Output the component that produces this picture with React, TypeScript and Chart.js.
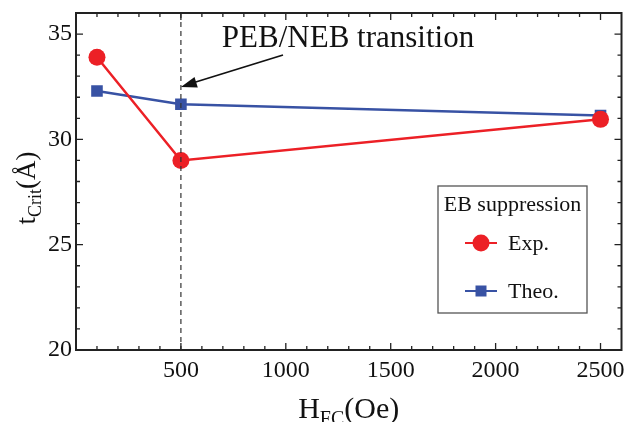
import React, { useEffect, useRef } from "react";
import { Chart, registerables } from "chart.js";

Chart.register(...registerables);

const fieldValues = [100, 500, 2500];
const expValues = [33.9, 29.0, 30.95];
const theoValues = [32.3, 31.67, 31.13];
const xTicks = [500, 1000, 1500, 2000, 2500];
const yTicks = [20, 25, 30, 35];
const transitionField = 500;

const SERIF = '"Liberation Serif", "DejaVu Serif", serif';
const RED = "rgb(236,32,38)";
const BLUE = "rgb(56,82,164)";

const framePlugin = {
  id: "frame",
  afterDatasetsDraw(chart: any) {
    const { ctx, chartArea, scales } = chart;
    const px = scales.x.getPixelForValue(transitionField);
    ctx.save();
    ctx.strokeStyle = "#333";
    ctx.lineWidth = 1.2;
    ctx.setLineDash([5, 4]);
    ctx.beginPath();
    ctx.moveTo(px, chartArea.top);
    ctx.lineTo(px, chartArea.bottom);
    ctx.stroke();
    ctx.restore();
  },
  afterDraw(chart: any) {
    const { ctx, chartArea, scales } = chart;
    const { left, right, top, bottom } = chartArea;
    ctx.save();
    // ticks
    ctx.strokeStyle = "#222";
    ctx.lineWidth = 1.3;
    ctx.beginPath();
    for (let v = 100; v < scales.x.max; v += 100) {
      const p = scales.x.getPixelForValue(v);
      const len = v % 500 === 0 ? 7 : 4;
      ctx.moveTo(p, bottom);
      ctx.lineTo(p, bottom - len);
      ctx.moveTo(p, top);
      ctx.lineTo(p, top + len);
    }
    for (let v = 21; v < scales.y.max; v += 1) {
      const p = scales.y.getPixelForValue(v);
      const len = v % 5 === 0 ? 7 : 4;
      ctx.moveTo(left, p);
      ctx.lineTo(left + len, p);
      ctx.moveTo(right, p);
      ctx.lineTo(right - len, p);
    }
    ctx.stroke();
    // frame
    ctx.lineWidth = 2;
    ctx.strokeRect(left, top, right - left, bottom - top);

    // annotation text
    ctx.fillStyle = "#111";
    ctx.font = `31px ${SERIF}`;
    ctx.textAlign = "center";
    ctx.textBaseline = "alphabetic";
    ctx.fillText("PEB/NEB transition", 348, 47);
    // arrow
    const hx = scales.x.getPixelForValue(transitionField);
    const hy = 87;
    const tx = 283, ty = 55;
    ctx.strokeStyle = "#111";
    ctx.lineWidth = 1.8;
    ctx.beginPath();
    ctx.moveTo(tx, ty);
    ctx.lineTo(hx + 10, hy - 3.5);
    ctx.stroke();
    const ang = Math.atan2(hy - ty, hx - tx);
    const al = 16, aw = 5.5;
    ctx.beginPath();
    ctx.moveTo(hx, hy);
    ctx.lineTo(hx - al * Math.cos(ang) + aw * Math.sin(ang), hy - al * Math.sin(ang) - aw * Math.cos(ang));
    ctx.lineTo(hx - al * Math.cos(ang) - aw * Math.sin(ang), hy - al * Math.sin(ang) + aw * Math.cos(ang));
    ctx.closePath();
    ctx.fillStyle = "#111";
    ctx.fill();

    // x axis title with subscript
    ctx.fillStyle = "#111";
    ctx.textAlign = "left";
    const mainF = `30px ${SERIF}`;
    const subF = `20px ${SERIF}`;
    ctx.font = mainF;
    const wH = ctx.measureText("H").width;
    const wOe = ctx.measureText("(Oe)").width;
    ctx.font = subF;
    const wFC = ctx.measureText("FC").width;
    const total = wH + wFC + wOe;
    let x0 = (left + right) / 2 - total / 2;
    const by = 418;
    ctx.font = mainF;
    ctx.fillText("H", x0, by);
    ctx.font = subF;
    ctx.fillText("FC", x0 + wH, by + 7);
    ctx.font = mainF;
    ctx.fillText("(Oe)", x0 + wH + wFC, by);

    // y axis title rotated
    ctx.save();
    ctx.translate(35, 188);
    ctx.rotate(-Math.PI / 2);
    const mainY = `27px ${SERIF}`;
    const subY = `18px ${SERIF}`;
    ctx.font = mainY;
    const wt = ctx.measureText("t").width;
    const wA = ctx.measureText("(Å)").width;
    ctx.font = subY;
    const wC = ctx.measureText("Crit").width;
    const tot2 = wt + wC + wA;
    let y0 = -tot2 / 2;
    ctx.font = mainY;
    ctx.fillText("t", y0, 0);
    ctx.font = subY;
    ctx.fillText("Crit", y0 + wt, 6);
    ctx.font = mainY;
    ctx.fillText("(Å)", y0 + wt + wC, 0);
    ctx.restore();

    // legend box
    const lx = 438, ly = 186, lw = 149, lh = 127;
    ctx.fillStyle = "#fff";
    ctx.fillRect(lx, ly, lw, lh);
    ctx.strokeStyle = "#555";
    ctx.lineWidth = 1.3;
    ctx.strokeRect(lx, ly, lw, lh);
    ctx.fillStyle = "#111";
    ctx.font = `22px ${SERIF}`;
    ctx.textAlign = "center";
    ctx.textBaseline = "middle";
    ctx.fillText("EB suppression", lx + lw / 2, 205);
    const rows = [
      { y: 243, color: RED, label: chart.data.datasets[0].label, shape: "circle" },
      { y: 291, color: BLUE, label: chart.data.datasets[1].label, shape: "square" },
    ];
    for (const r of rows) {
      ctx.strokeStyle = r.color;
      ctx.lineWidth = 2;
      ctx.beginPath();
      ctx.moveTo(465, r.y);
      ctx.lineTo(497, r.y);
      ctx.stroke();
      ctx.fillStyle = r.color;
      if (r.shape === "circle") {
        ctx.beginPath();
        ctx.arc(481, r.y, 8.5, 0, Math.PI * 2);
        ctx.fill();
      } else {
        ctx.fillRect(481 - 5.5, r.y - 5.5, 11, 11);
      }
      ctx.fillStyle = "#111";
      ctx.font = `22px ${SERIF}`;
      ctx.textAlign = "left";
      ctx.fillText(r.label, 508, r.y + 1);
    }
    ctx.restore();
  },
};

export default function App() {
  const ref = useRef<HTMLCanvasElement>(null);
  useEffect(() => {
    document.body.style.margin = "0";
    const canvas = ref.current!;
    const chart = new Chart(canvas, {
      type: "line",
      data: {
        datasets: [
          {
            label: "Exp.",
            data: fieldValues.map((x, i) => ({ x, y: expValues[i] })),
            borderColor: RED,
            backgroundColor: RED,
            borderWidth: 2.5,
            pointStyle: "circle",
            pointRadius: 8.5,
            pointBorderWidth: 0,
            tension: 0,
          },
          {
            label: "Theo.",
            data: fieldValues.map((x, i) => ({ x, y: theoValues[i] })),
            borderColor: BLUE,
            backgroundColor: BLUE,
            borderWidth: 2.5,
            pointStyle: "rect",
            pointRadius: 8.2,
            pointBorderWidth: 0,
            tension: 0,
          },
        ],
      },
      options: {
        responsive: false,
        animation: false,
        layout: { padding: { top: 13, right: 7, left: 0, bottom: 0 } },
        plugins: { legend: { display: false }, tooltip: { enabled: false } },
        scales: {
          x: {
            type: "linear",
            min: 0,
            max: 2600,
            afterBuildTicks: (s: any) => {
              s.ticks = xTicks.map((v) => ({ value: v }));
            },
            afterFit: (s: any) => {
              s.height = 72;
              s.paddingLeft = 0;
              s.paddingRight = 0;
            },
            grid: { display: false, drawTicks: false },
            border: { display: false },
            ticks: {
              font: { family: SERIF, size: 24 },
              color: "#111",
              padding: 6,
              maxRotation: 0,
              callback: (v: any) => String(v),
            },
          },
          y: {
            type: "linear",
            min: 20,
            max: 36,
            afterBuildTicks: (s: any) => {
              s.ticks = yTicks.map((v) => ({ value: v }));
            },
            afterFit: (s: any) => {
              s.width = 76;
              s.paddingTop = 0;
              s.paddingBottom = 0;
            },
            grid: { display: false, drawTicks: false },
            border: { display: false },
            ticks: {
              font: { family: SERIF, size: 24 },
              color: "#111",
              padding: 4,
              callback: (v: any) => String(v),
            },
          },
        },
      },
      plugins: [framePlugin],
    } as any);
    return () => chart.destroy();
  }, []);
  return (
    <div style={{ width: 630, height: 422 }}>
      <canvas ref={ref} width={630} height={422} />
    </div>
  );
}
